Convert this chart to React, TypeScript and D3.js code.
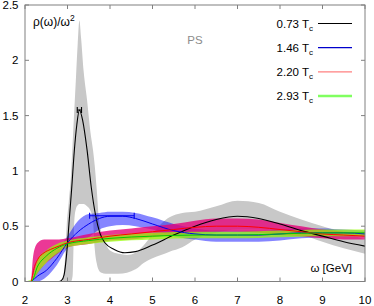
import React from 'react'
import * as d3 from 'd3'

// axis ticks
const xTicks = [2, 3, 4, 5, 6, 7, 8, 9, 10]
const yTicks = [0, 0.5, 1, 1.5, 2, 2.5]
const yTickLabels = ['0', '0.5', '1', '1.5', '2', '2.5']

// 0.73 Tc : gray error band + black curve
const grayX = [2.88, 2.94, 2.98, 3.03, 3.08, 3.12, 3.16, 3.2, 3.24, 3.28, 3.32, 3.38, 3.46, 3.54, 3.6, 3.64, 3.69, 3.74, 3.8, 3.9, 4.0, 4.2, 4.4, 4.6, 4.8, 5.0, 5.2, 5.4, 5.7, 6.0, 6.5, 7.0, 7.5, 8.0, 8.5, 9.0, 9.5, 10]
const grayLo = [0, 0, 0, 0, 0, 0.05, 0.55, 0.66, 0.69, 0.7, 0.7, 0.7, 0.68, 0.64, 0.55, 0.3, 0.16, 0.1, 0.08, 0.07, 0.07, 0.07, 0.08, 0.11, 0.17, 0.21, 0.24, 0.27, 0.31, 0.38, 0.44, 0.47, 0.47, 0.45, 0.42, 0.36, 0.3, 0.25]
const grayHi = [0, 0.2, 0.5, 0.72, 0.95, 1.25, 1.55, 1.85, 2.15, 2.36, 2.2, 1.9, 1.64, 1.35, 1.19, 1.05, 0.82, 0.56, 0.44, 0.34, 0.28, 0.25, 0.24, 0.26, 0.33, 0.43, 0.52, 0.58, 0.62, 0.63, 0.68, 0.73, 0.71, 0.63, 0.56, 0.5, 0.44, 0.38]
const blackX = [2.0, 2.8, 2.86, 2.92, 2.98, 3.04, 3.1, 3.16, 3.22, 3.28, 3.36, 3.46, 3.56, 3.66, 3.76, 3.88, 4.1, 4.35, 4.6, 5.0, 5.5, 6.0, 6.5, 7.0, 7.5, 8.0, 8.5, 9.0, 9.5, 10]
const blackY = [0, 0, 0.01, 0.06, 0.25, 0.55, 0.85, 1.18, 1.42, 1.55, 1.45, 1.19, 0.85, 0.6, 0.44, 0.35, 0.29, 0.26, 0.27, 0.33, 0.42, 0.5, 0.56, 0.59, 0.57, 0.52, 0.46, 0.41, 0.36, 0.32]

// 1.46 Tc : blue
const blueX = [2.15, 2.3, 2.5, 2.75, 3.0, 3.25, 3.5, 3.75, 4.0, 4.3, 4.6, 5.0, 5.5, 6.0, 6.5, 7.0, 7.5, 8.0, 8.5, 9.0, 9.5, 10]
const blueY = [0.0, 0.05, 0.1, 0.21, 0.35, 0.45, 0.52, 0.57, 0.59, 0.59, 0.57, 0.52, 0.46, 0.43, 0.42, 0.42, 0.42, 0.43, 0.44, 0.44, 0.44, 0.43]
const blueLo = [0, 0.0, 0.04, 0.15, 0.3, 0.35, 0.4, 0.47, 0.5, 0.51, 0.5, 0.47, 0.41, 0.38, 0.36, 0.36, 0.36, 0.37, 0.39, 0.4, 0.41, 0.41]
const blueHi = [0.02, 0.1, 0.17, 0.27, 0.41, 0.55, 0.61, 0.62, 0.63, 0.63, 0.62, 0.58, 0.52, 0.48, 0.46, 0.46, 0.46, 0.47, 0.48, 0.48, 0.47, 0.46]

// 2.20 Tc : pink band, red curve
const pinkX = [2.15, 2.2, 2.3, 2.45, 2.6, 2.8, 3.0, 3.5, 4.0, 4.5, 5.0, 5.5, 6.0, 6.5, 7.0, 7.5, 8.0, 8.5, 9.0, 9.5, 10]
const pinkY = [0, 0.1, 0.2, 0.26, 0.29, 0.32, 0.35, 0.38, 0.41, 0.43, 0.45, 0.47, 0.49, 0.5, 0.5, 0.49, 0.47, 0.45, 0.43, 0.42, 0.41]
const pinkLo = [0, 0.02, 0.08, 0.15, 0.2, 0.26, 0.31, 0.34, 0.37, 0.38, 0.4, 0.42, 0.44, 0.45, 0.45, 0.44, 0.42, 0.41, 0.39, 0.38, 0.38]
const pinkHi = [0.02, 0.25, 0.35, 0.38, 0.38, 0.38, 0.39, 0.43, 0.46, 0.48, 0.5, 0.52, 0.55, 0.57, 0.57, 0.56, 0.53, 0.5, 0.47, 0.45, 0.44]

// 2.93 Tc : green
const greenX = [2.0, 2.15, 2.3, 2.5, 2.75, 3.0, 3.5, 4.0, 5.0, 6.0, 7.0, 8.0, 9.0, 10]
const greenY = [0, 0, 0.14, 0.23, 0.3, 0.34, 0.37, 0.39, 0.41, 0.42, 0.42, 0.43, 0.44, 0.44]
const greenLo = [0, 0, 0.08, 0.17, 0.25, 0.31, 0.34, 0.36, 0.38, 0.39, 0.39, 0.4, 0.41, 0.41]
const greenHi = [0, 0.02, 0.2, 0.28, 0.34, 0.37, 0.4, 0.42, 0.44, 0.45, 0.45, 0.46, 0.47, 0.47]

// horizontal error bars [x0, x1, y]
const blackErr = [3.23, 3.33, 1.55]
const blueErr = [3.52, 4.57, 0.595]

const legendLabels = ['0.73', '1.46', '2.20', '2.93']
const legendColors = ['#000000', '#0000cc', '#ff8080', '#80ff60']
const legendWidths = [1.2, 1.2, 1.2, 2.5]

const W = 374
const H = 306
const font = '"Liberation Sans", Arial, sans-serif'

export default function App() {
  const x = d3.scaleLinear().domain([2, 10]).range([25, 365])
  const y = d3.scaleLinear().domain([0, 2.5]).range([281.5, 5])

  const band = (xs: number[], lo: number[], hi: number[]) =>
    d3.area<number>()
      .x((_, i) => x(xs[i]))
      .y0((_, i) => y(lo[i]))
      .y1((d) => y(d))
      .curve(d3.curveMonotoneX)(hi) as string

  const line = (xs: number[], ys: number[]) =>
    d3.line<number>()
      .x((_, i) => x(xs[i]))
      .y((d) => y(d))
      .curve(d3.curveMonotoneX)(ys) as string

  const errBar = (e: number[], color: string) => (
    <g stroke={color} strokeWidth={1.1}>
      <line x1={x(e[0])} x2={x(e[1])} y1={y(e[2])} y2={y(e[2])} />
      <line x1={x(e[0])} x2={x(e[0])} y1={y(e[2]) - 3} y2={y(e[2]) + 3} />
      <line x1={x(e[1])} x2={x(e[1])} y1={y(e[2]) - 3} y2={y(e[2]) + 3} />
    </g>
  )

  const [x0, x1] = x.range()
  const [y0, y1] = y.range()
  const tick = 4
  const frame = '#808080'

  return (
    <svg width={W} height={H} style={{ position: 'absolute', left: 0, top: 0, background: '#fff' }} fontFamily={font}>
      <defs>
        <clipPath id="plot">
          <rect x={x0} y={y1} width={x1 - x0} height={y0 - y1} />
        </clipPath>
      </defs>

      <g clipPath="url(#plot)">
        <path d={band(grayX, grayLo, grayHi)} fill="#c8c8c8" />
        <path d={band(blueX, blueLo, blueHi)} fill="rgba(0,0,255,0.48)" />
        <path d={band(pinkX, pinkLo, pinkHi)} fill="rgba(230,0,120,0.78)" />
        <path d={band(greenX, greenLo, greenHi)} fill="rgba(150,255,0,0.72)" />

        <path d={line(blackX, blackY)} fill="none" stroke="#000" strokeWidth={1.1} />
        <path d={line(blueX, blueY)} fill="none" stroke="#0000ee" strokeWidth={1} />
        <path d={line(pinkX, pinkY)} fill="none" stroke="#ff0000" strokeWidth={1} />
        <path d={line(greenX, greenY)} fill="none" stroke="#00cc00" strokeWidth={1} />

        {errBar(blackErr, '#000')}
        {errBar(blueErr, '#0000ee')}
      </g>

      {/* frame and mirrored ticks */}
      <rect x={x0} y={y1} width={x1 - x0} height={y0 - y1} fill="none" stroke={frame} strokeWidth={1} />
      <g stroke={frame} strokeWidth={1}>
        {xTicks.map((t) => (
          <g key={`xt${t}`}>
            <line x1={x(t)} x2={x(t)} y1={y0} y2={y0 - tick} />
            <line x1={x(t)} x2={x(t)} y1={y1} y2={y1 + tick} />
          </g>
        ))}
        {yTicks.map((t) => (
          <g key={`yt${t}`}>
            <line x1={x0} x2={x0 + tick} y1={y(t)} y2={y(t)} />
            <line x1={x1} x2={x1 - tick} y1={y(t)} y2={y(t)} />
          </g>
        ))}
      </g>

      <g fontSize={11.5} fill="#000">
        {xTicks.map((t) => (
          <text key={`xl${t}`} x={x(t)} y={303.5} textAnchor="middle">{t}</text>
        ))}
        {yTicks.map((t, i) => (
          <text key={`yl${t}`} x={18.5} y={y(t) + 4} textAnchor="end">{yTickLabels[i]}</text>
        ))}
      </g>

      <text x={33} y={25.5} fontSize={12} fill="#000">
        ρ(ω)/ω<tspan dy={-5} fontSize={8.5}>2</tspan>
      </text>
      <text x={195} y={43.5} fontSize={11.5} fill="#8c8c8c" textAnchor="middle">PS</text>
      <text x={352} y={271.5} fontSize={11.5} fill="#000" textAnchor="end">ω [GeV]</text>

      {legendLabels.map((l, i) => {
        const ry = 23.5 + i * 24.2
        return (
          <g key={`lg${l}`}>
            <text x={313} y={ry + 4} fontSize={11.5} fill="#000" textAnchor="end">
              {l} T<tspan dy={3} fontSize={8}>c</tspan>
            </text>
            <line x1={318} x2={352} y1={ry} y2={ry} stroke={legendColors[i]} strokeWidth={legendWidths[i]} />
          </g>
        )
      })}
    </svg>
  )
}
